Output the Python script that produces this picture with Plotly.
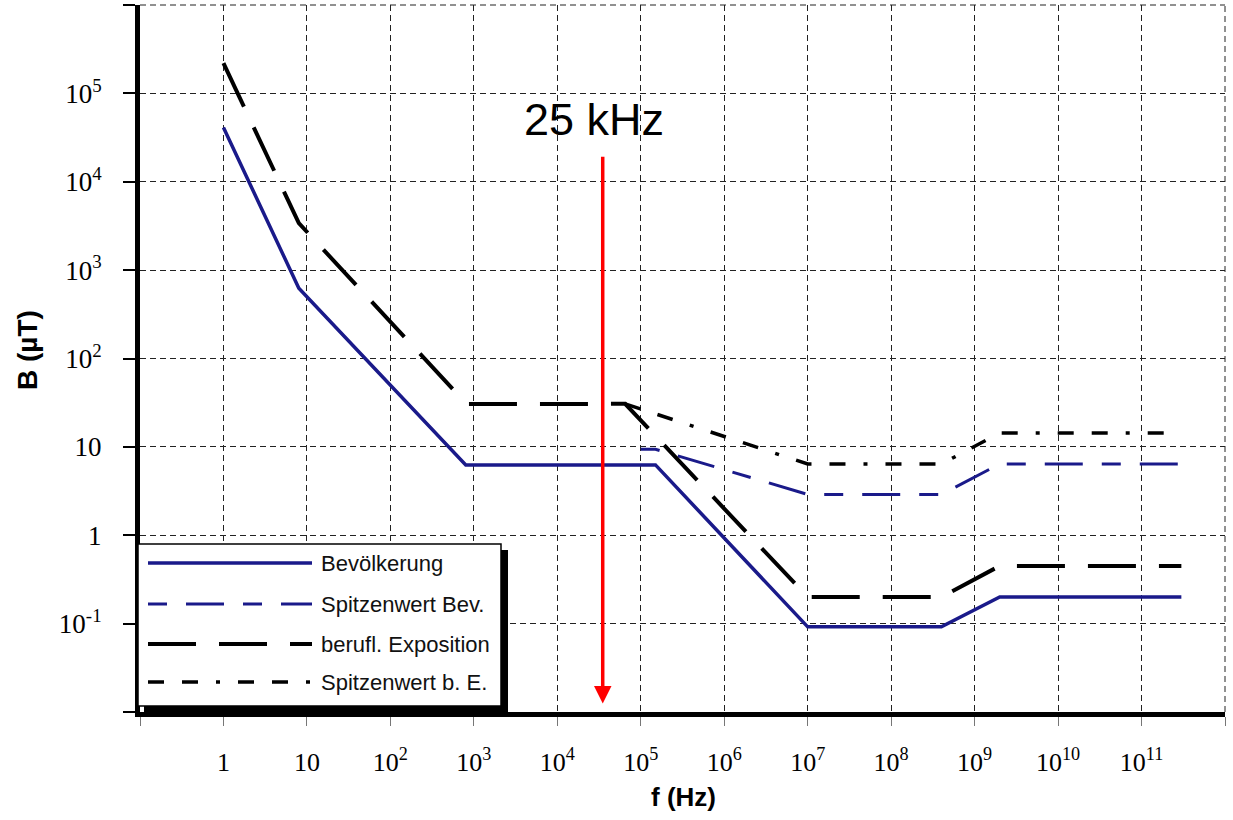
import numpy as np
import plotly.graph_objects as go

# ---------------- data ----------------
bev_f = [1, 8, 800, 1.5e5, 1e7, 4e8, 2e9, 3e11]
bev_B = [4.1e4, 625, 6.25, 6.25, 0.092, 0.092, 0.2, 0.2]

spb_f = [1e5, 1.5e5, 1e7, 4e8, 2e9, 3e11]
spb_B = [9.4, 9.4, 2.9, 2.9, 6.4, 6.4]

ber_f = [1, 8, 820, 6.5e4, 1e7, 4e8, 2e9, 3e11]
ber_B = [2.2e5, 3400, 30.5, 30.7, 0.2, 0.2, 0.45, 0.45]

spe_f = [6.5e4, 1e7, 4e8, 2e9, 3e11]
spe_B = [30.7, 6.4, 6.4, 14.4, 14.4]

series_names = ["Bevölkerung", "Spitzenwert Bev.", "berufl. Exposition", "Spitzenwert b. E."]

x_exps = list(range(-1, 13))
x_ticktext = ["", "1", "10"] + [f"10<sup>{k}</sup>" for k in range(2, 12)] + [""]
y_exps = list(range(-2, 7))
y_ticktext = ["", "10<sup>-1</sup>", "1", "10"] + [f"10<sup>{k}</sup>" for k in range(2, 6)] + [""]

marker_f = 3.5e4          # position of the red arrow
marker_tip = 0.0125
marker_tail = 2.0e4
marker_label = "25 kHz"
marker_label_B = 5.0e4

# ---------------- styling ----------------
NAVY = "#1a1a8a"
styles = [
    dict(color=NAVY, width=3.5, dash="solid"),
    dict(color=NAVY, width=3, dash="19px,19px,38px,19px"),
    dict(color="black", width=4, dash="48px,23px"),
    dict(color="black", width=3.5, dash="16px,18px,16px,18px,4px,18px"),
]
datasets = [(bev_f, bev_B), (spb_f, spb_B), (ber_f, ber_B), (spe_f, spe_B)]

W, H = 1233, 820
L, R, T, B = 140, 8, 5, 108
PW, PH = W - L - R, H - T - B


def px(x):
    return (x - L) / PW


def py(y):
    return (H - B - y) / PH


fig = go.Figure()
for (f, b), name, st in zip(datasets, series_names, styles):
    fig.add_trace(go.Scatter(x=f, y=b, mode="lines", name=name, line=st,
                             showlegend=False))

serif = "Liberation Serif, Times New Roman, serif"
sans = "Liberation Sans, Arial, sans-serif"
GRID = dict(color="#222", width=1, dash="6px,4px")

fig.update_xaxes(type="log", range=[-1, 12], automargin=False,
                 tickvals=[10.0 ** k for k in x_exps], ticktext=x_ticktext,
                 showgrid=True, gridcolor=GRID["color"], griddash=GRID["dash"], gridwidth=1,
                 showline=True, linecolor="black", linewidth=5,
                 ticks="outside", ticklen=9, tickcolor="#777", tickwidth=1,
                 tickfont=dict(family=serif, size=26, color="black"),
                 ticklabelstandoff=14, zeroline=False)
fig.update_yaxes(type="log", range=[-2, 6], automargin=False,
                 tickvals=[10.0 ** k for k in y_exps], ticktext=y_ticktext,
                 showgrid=True, gridcolor=GRID["color"], griddash=GRID["dash"], gridwidth=1,
                 showline=True, linecolor="black", linewidth=5,
                 ticks="outside", ticklen=12, tickcolor="black", tickwidth=1.5,
                 tickfont=dict(family=serif, size=27, color="black"),
                 ticklabelstandoff=16, zeroline=False)

shapes = [
    # dashed frame at top and right (grid lines on the range edges)
    dict(type="line", xref="paper", yref="paper", x0=0, x1=1, y0=1, y1=1,
         line=GRID, layer="below"),
    dict(type="line", xref="paper", yref="paper", x0=1, x1=1, y0=0, y1=1,
         line=GRID, layer="below"),
    # legend shadow + box
    dict(type="rect", xref="paper", yref="paper", x0=px(144), x1=px(508),
         y0=py(713), y1=py(550), fillcolor="black", line=dict(width=0), layer="above"),
    dict(type="rect", xref="paper", yref="paper", x0=px(138), x1=px(501),
         y0=py(706), y1=py(544), fillcolor="white", line=dict(color="black", width=1.5),
         layer="above"),
]
annotations = []
rows = [563, 604, 644, 682]
for ry, name, st in zip(rows, series_names, styles):
    shapes.append(dict(type="line", xref="paper", yref="paper", x0=px(148), x1=px(312),
                       y0=py(ry), y1=py(ry), line=st, layer="above"))
    annotations.append(dict(xref="paper", yref="paper", x=px(319), y=py(ry),
                            xanchor="left", yanchor="middle", text=name, showarrow=False,
                            font=dict(family=sans, size=22, color="#111")))

# red arrow and label
annotations.append(dict(xref="x", yref="y", axref="x", ayref="y",
                        x=np.log10(marker_f), y=np.log10(marker_tip),
                        ax=np.log10(marker_f), ay=np.log10(marker_tail),
                        text="", showarrow=True, arrowhead=2, arrowsize=1.0,
                        arrowwidth=3.5, arrowcolor="red"))
annotations.append(dict(xref="x", yref="y", x=np.log10(marker_f), y=np.log10(marker_label_B),
                        text=marker_label, showarrow=False, xshift=-9,
                        xanchor="center", yanchor="middle",
                        font=dict(family=sans, size=45, color="black")))

# axis titles
annotations.append(dict(xref="paper", yref="paper", x=px(683), y=py(797),
                        xanchor="center", yanchor="middle",
                        text="<b>f (Hz)</b>", showarrow=False,
                        font=dict(family=sans, size=26, color="black")))
annotations.append(dict(xref="paper", yref="paper", x=px(27), y=py(350),
                        xanchor="center", yanchor="middle",
                        text="<b>B (µT)</b>", showarrow=False, textangle=-90,
                        font=dict(family=sans, size=28, color="black")))

fig.update_layout(width=W, height=H, margin=dict(l=L, r=R, t=T, b=B, autoexpand=False),
                  plot_bgcolor="white", paper_bgcolor="white",
                  showlegend=False, shapes=shapes, annotations=annotations)

fig.write_html("out.html", config={"displayModeBar": False},
               post_script="document.body.style.margin='0';document.body.style.padding='0';")
